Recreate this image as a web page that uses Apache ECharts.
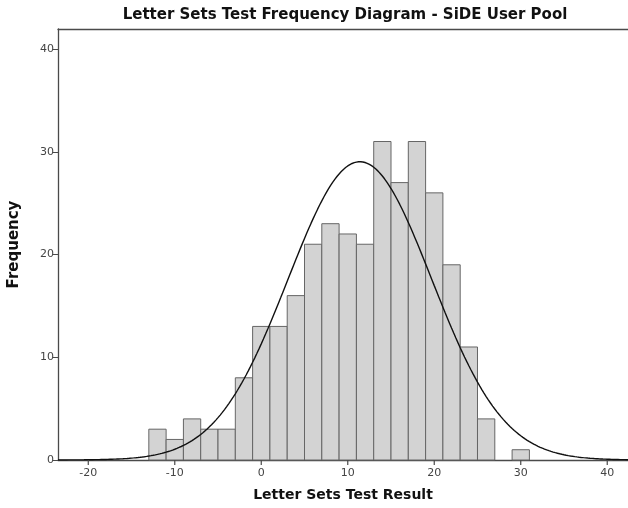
<!DOCTYPE html>
<html><head><meta charset="utf-8">
<script src="https://cdn.jsdelivr.net/npm/echarts@6/dist/echarts.min.js"></script>
<style>html,body{margin:0;padding:0;background:#fff}#c{width:628px;height:508px}</style>
</head><body><div id="c"></div>
<script>
// Histogram bins (left edges, width 2) and counts
var binStarts = [-13,-11,-9,-7,-5,-3,-1,1,3,5,7,9,11,13,15,17,19,21,23,25,27,29];
var counts    = [3,2,4,3,3,8,13,13,16,21,23,22,21,31,27,31,26,19,11,4,0,1];
var binWidth = 2;
// Normal curve parameters
var curveMean = 11.4, curveSd = 8.3, curveN = 302;
// Axis ranges and x tick values
var xRange = [-23.5, 42.4];
var yRange = [0, 41.95];
var xTicks = [-20,-10,0,10,20,30,40];

var curve = [];
for (var x = xRange[0]; x <= xRange[1] + 0.25; x += 0.25) {
  var z = (x - curveMean) / curveSd;
  curve.push([x, curveN * binWidth / (curveSd * Math.sqrt(2*Math.PI)) * Math.exp(-0.5*z*z)]);
}
var bars = binStarts.map(function(s,i){ return [s, s+binWidth, counts[i]]; }).filter(function(d){return d[2]>0;});

var axisColor = '#4a4a4a';
var labelStyle = {color:'#444', fontSize:11, fontFamily:'DejaVu Sans'};
var chart = echarts.init(document.getElementById('c'));
chart.setOption({
  animation:false,
  title:{text:'Letter Sets Test Frequency Diagram - SiDE User Pool', left:340, textAlign:'center', top:3,
    textStyle:{fontSize:15, fontWeight:'bold', fontFamily:'DejaVu Sans', color:'#111'}},
  grid:{left:58, right:0, top:29, bottom:48, outerBoundsMode:'none'},
  xAxis:[{
    type:'value', min:xRange[0], max:xRange[1], splitNumber:6, splitLine:{show:false},
    axisLine:{show:true, onZero:false, lineStyle:{color:axisColor, width:1.3}},
    axisTick:{show:false},
    axisLabel:Object.assign({margin:8, showMinLabel:false, showMaxLabel:false}, labelStyle),
    name:'Letter Sets Test Result', nameLocation:'middle', nameGap:28,
    nameTextStyle:{fontSize:14, fontWeight:'bold', fontFamily:'DejaVu Sans', color:'#111'}
  },{
    type:'value', position:'top', min:xRange[0], max:xRange[1], splitLine:{show:false},
    axisLine:{show:true, onZero:false, lineStyle:{color:axisColor, width:1.3}}, axisTick:{show:false}, axisLabel:{show:false}
  }],
  yAxis:{
    type:'value', min:yRange[0], max:yRange[1], splitNumber:5, splitLine:{show:false},
    axisLine:{show:true, onZero:false, lineStyle:{color:axisColor, width:1.3}},
    axisTick:{show:true, length:5, lineStyle:{color:axisColor}},
    axisLabel:Object.assign({margin:4, showMaxLabel:false}, labelStyle),
    name:'Frequency', nameLocation:'middle', nameGap:36, nameRotate:90,
    nameTextStyle:{fontSize:15, fontWeight:'bold', fontFamily:'DejaVu Sans', color:'#111'}
  },
  series:[{
    type:'custom', data:bars,
    renderItem:function(params, api){
      var p0 = api.coord([api.value(0), api.value(2)]);
      var p1 = api.coord([api.value(1), 0]);
      return {type:'rect', shape:{x:p0[0], y:p0[1], width:p1[0]-p0[0], height:p1[1]-p0[1]},
        style:{fill:'#d3d3d3', stroke:'#666', lineWidth:1}};
    }
  },{
    type:'line', data:curve, showSymbol:false, symbol:'none', smooth:false,
    lineStyle:{color:'#111', width:1.4}, z:5
  },{
    // x-axis tick marks at the labelled values
    type:'custom', clip:false, silent:true, z:10,
    data:xTicks.map(function(v){ return [v]; }),
    renderItem:function(params, api){
      var p = api.coord([api.value(0), yRange[0]]);
      return {type:'line', shape:{x1:p[0], y1:p[1], x2:p[0], y2:p[1]+5},
        style:{stroke:axisColor, lineWidth:1.2}};
    }
  }]
});
</script></body></html>
